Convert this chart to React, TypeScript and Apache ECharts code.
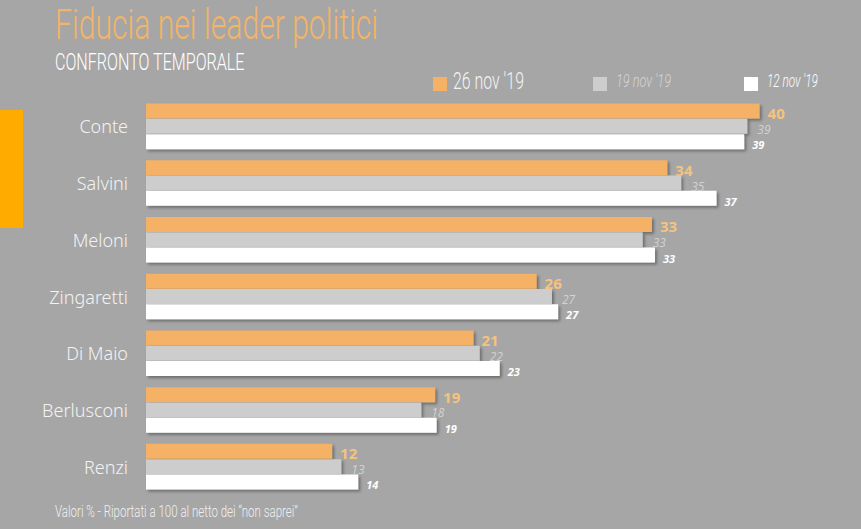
import React, { useEffect, useRef } from "react";
import * as echarts from "echarts";

const categories = ["Conte", "Salvini", "Meloni", "Zingaretti", "Di Maio", "Berlusconi", "Renzi"];
// bar lengths
const nov26 = [39.9, 33.9, 32.9, 25.4, 21.3, 18.8, 12.1];
const nov19 = [39.1, 34.8, 32.3, 26.4, 21.7, 17.9, 12.7];
const nov12 = [38.9, 37.1, 33.1, 26.8, 23.0, 18.9, 13.8];
// printed value labels
const nov26Labels = [40, 34, 33, 26, 21, 19, 12];
const nov19Labels = [39, 35, 33, 27, 22, 18, 13];
const nov12Labels = [39, 37, 33, 27, 23, 19, 14];
const seriesNames = ["26 nov '19", "19 nov '19", "12 nov '19"];
const titleText = "Fiducia nei leader politici";
const subtitleText = "CONFRONTO TEMPORALE";
const footnoteText = "Valori % - Riportati a 100 al netto dei \u201cnon saprei\u201d";

const BG = "#a6a6a6";
const ORANGE = "#f5b266";
const GRAY = "#cdcdcd";
const WHITE = "#ffffff";

function measure(text: string, font: string): number {
  const c = document.createElement("canvas");
  const ctx = c.getContext("2d")!;
  ctx.font = font;
  return ctx.measureText(text).width;
}

function fitText(
  text: string,
  x: number,
  y: number,
  width: number,
  size: number,
  color: string,
  opts: { weight?: string | number; style?: string; family?: string } = {}
) {
  const family = opts.family || "Roboto";
  const weight = opts.weight || "normal";
  const fstyle = opts.style || "normal";
  const w = measure(text, `${fstyle} ${weight} ${size}px ${family}`);
  const scaleX = w > 0 ? width / w : 1;
  return {
    type: "text",
    x,
    y,
    scaleX,
    silent: true,
    style: {
      text,
      fill: color,
      fontSize: size,
      fontFamily: family,
      fontWeight: weight,
      fontStyle: fstyle,
      align: "left",
      verticalAlign: "middle",
      textAlign: "left",
      textVerticalAlign: "middle",
    },
  };
}

export default function App() {
  const ref = useRef<HTMLDivElement>(null);
  useEffect(() => {
    if (!ref.current) return;
    const chart = echarts.init(ref.current, null, { renderer: "svg" });
    const shadow = {
      shadowColor: "rgba(0,0,0,0.35)",
      shadowBlur: 3,
      shadowOffsetX: 2,
      shadowOffsetY: 2,
    };
    const legendGraphics: any[] = [
      { type: "rect", shape: { x: 433, y: 77, width: 14, height: 14 }, style: { fill: ORANGE } },
      fitText(seriesNames[0], 453, 81, 71, 24, "#f4f4f4", { weight: 300 }),
      { type: "rect", shape: { x: 593, y: 77, width: 14, height: 14 }, style: { fill: GRAY } },
      fitText(seriesNames[1], 616, 81, 55, 19, "#d4d4d4", { style: "italic", weight: 300 }),
      { type: "rect", shape: { x: 744, y: 77, width: 14, height: 14 }, style: { fill: WHITE } },
      fitText(seriesNames[2], 767, 81, 51, 18, "#ffffff", { style: "italic", weight: 300 }),
    ];
    chart.setOption({
      animation: false,
      backgroundColor: BG,
      grid: { left: 146, top: 98, width: 692, height: 397, containLabel: false },
      xAxis: {
        type: "value",
        min: 0,
        max: 45,
        show: false,
        splitLine: { show: false },
      },
      yAxis: {
        type: "category",
        data: categories,
        inverse: true,
        axisLine: { show: false },
        axisTick: { show: false },
        splitLine: { show: false },
        axisLabel: {
          margin: 18,
          color: "#f3f3f3",
          fontSize: 18,
          fontFamily: "Noto Sans",
          fontWeight: 300,
        },
      },
      series: [
        {
          name: seriesNames[0],
          type: "bar",
          data: nov26,
          barWidth: 15,
          barGap: "2%",
          itemStyle: { color: ORANGE, ...shadow },
          label: {
            show: true,
            position: "right",
            distance: 8,
            offset: [0, 2],
            color: "#f6c27e",
            fontWeight: "bold",
            fontSize: 15,
            fontFamily: "Open Sans",
            formatter: (p: any) => String(nov26Labels[p.dataIndex]),
          },
        },
        {
          name: seriesNames[1],
          type: "bar",
          data: nov19,
          barWidth: 15,
          barGap: "2%",
          itemStyle: { color: GRAY, ...shadow },
          label: {
            show: true,
            position: "right",
            distance: 10,
            offset: [0, 3],
            color: "#d3d3d3",
            fontStyle: "italic",
            fontSize: 12,
            fontFamily: "Open Sans",
            formatter: (p: any) => String(nov19Labels[p.dataIndex]),
          },
        },
        {
          name: seriesNames[2],
          type: "bar",
          data: nov12,
          barWidth: 15,
          barGap: "2%",
          itemStyle: { color: WHITE, ...shadow },
          label: {
            show: true,
            position: "right",
            distance: 8,
            offset: [0, 3],
            color: "#ffffff",
            fontStyle: "italic",
            fontWeight: "bold",
            fontSize: 11,
            fontFamily: "Open Sans",
            formatter: (p: any) => String(nov12Labels[p.dataIndex]),
          },
        },
      ],
      graphic: [
        { type: "rect", shape: { x: 0, y: 110, width: 23, height: 118 }, style: { fill: "#ffab00" } },
        fitText(titleText, 55, 25, 323, 42, "#f2b468", { weight: 300 }),
        fitText(subtitleText, 55, 62, 190, 23, "#ffffff", { weight: 300 }),
        fitText(footnoteText, 55, 512, 243, 17, "#f0f0f0", { weight: 300 }),
        ...legendGraphics,
      ],
    });
    return () => chart.dispose();
  }, []);
  return (
    <div
      ref={ref}
      style={{ position: "fixed", left: 0, top: 0, width: 861, height: 529 }}
    />
  );
}
